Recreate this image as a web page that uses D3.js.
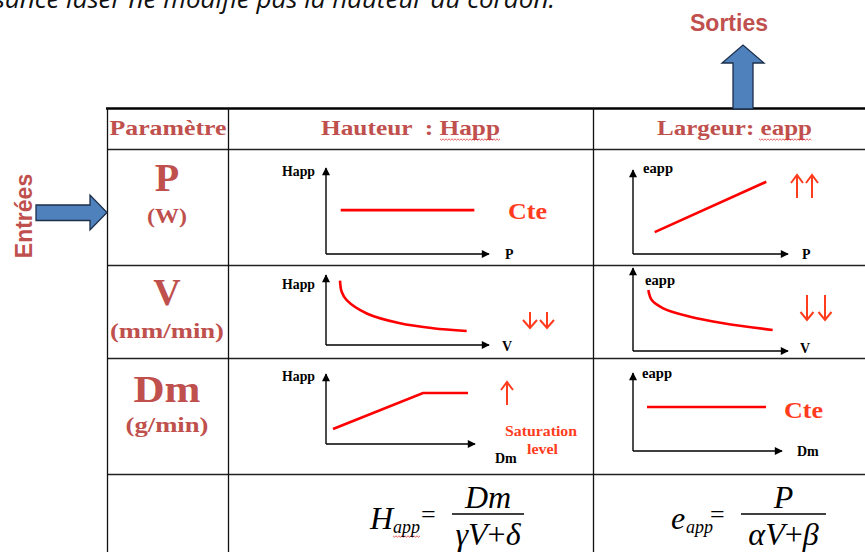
<!DOCTYPE html>
<html>
<head>
<meta charset="utf-8">
<script src="https://d3js.org/d3.v7.min.js"></script>
<style>
  body { margin: 0; background: #fff; }
  svg text { font-family: "Liberation Serif", "Times New Roman", serif; white-space: pre; }
</style>
</head>
<body>
<svg id="chart" width="865" height="552"></svg>
<script>
// ---- data ----
var params = ['P', 'V', 'Dm'];
var units = ['(W)', '(mm/min)', '(g/min)'];
var headers = ['Paramètre', 'Hauteur  : Happ', 'Largeur: eapp'];
var xLabels = ['P', 'P', 'V', 'V', 'Dm', 'Dm'];
var yLabels = ['Happ', 'eapp', 'Happ', 'eapp', 'Happ', 'eapp'];

// trends in axis units (0..10 on each axis)
var pHapp = [[0.9, 5.1], [9.1, 5.1]];
var pEapp = [[1.4, 2.6], [8.6, 8.6]];
var vHapp = [[0.86, 9.2], [0.96, 7.6], [1.27, 6.4], [2.5, 4.5], [4.54, 3.1], [6.56, 2.4], [8.63, 2.0]];
var vEapp = [[0.99, 7.35], [1.21, 6.14], [1.95, 5.14], [3.68, 4.13], [5.83, 3.34], [9.01, 2.53]];
var dmHapp = [[0.47, 2.14], [6.51, 7.29], [9.53, 7.29]];
var dmEapp = [[0.94, 5.64], [8.93, 5.64]];

var labelCol = '#c0504d';
var hotCol = '#ff3c1e';

var svg = d3.select('#chart');
svg.append('rect').attr('width', 865).attr('height', 552).attr('fill', '#fff');

var defs = svg.append('defs');
defs.append('marker')
    .attr('id', 'tip')
    .attr('viewBox', '0 0 10 10')
    .attr('refX', 9).attr('refY', 5)
    .attr('markerUnits', 'userSpaceOnUse')
    .attr('markerWidth', 9).attr('markerHeight', 8)
    .attr('orient', 'auto')
  .append('path')
    .attr('d', 'M0,0 L10,5 L0,10 z')
    .attr('fill', '#000');

// sentence of the page above, cut by the top edge
svg.append('text')
    .attr('x', 555).attr('y', 8)
    .attr('text-anchor', 'end')
    .style('font-family', '"Open Sans", sans-serif')
    .style('font-style', 'italic')
    .style('font-size', '26px')
    .attr('fill', '#111')
    .text('La puissance laser ne modifie pas la hauteur du cordon.');

// ---- table grid ----
var colX = [107, 228, 593];
var rowY = [149, 265, 358, 474];
var grid = svg.append('g').attr('id', 'grid');
grid.append('line').attr('x1', 106).attr('x2', 865).attr('y1', 108.5).attr('y2', 108.5)
    .attr('stroke', '#000').attr('stroke-width', 2.6);
grid.selectAll('.hl').data(rowY).enter().append('line')
    .attr('x1', 107).attr('x2', 865)
    .attr('y1', function(d) { return d + 0.5; }).attr('y2', function(d) { return d + 0.5; })
    .attr('stroke', '#222').attr('stroke-width', 1.3);
grid.selectAll('.vl').data(colX).enter().append('line')
    .attr('x1', function(d) { return d + 0.5; }).attr('x2', function(d) { return d + 0.5; })
    .attr('y1', 108).attr('y2', 552)
    .attr('stroke', '#111').attr('stroke-width', 1.3);

// headers
var headPos = [{x: 168, w: 117}, {x: 410.5, w: 179}, {x: 734.5, w: 155}];
svg.selectAll('.hd').data(headers).enter().append('text')
    .attr('x', function(d, i) { return headPos[i].x; })
    .attr('y', 135)
    .attr('text-anchor', 'middle')
    .attr('textLength', function(d, i) { return headPos[i].w; })
    .attr('lengthAdjust', 'spacingAndGlyphs')
    .style('font-size', '20px').style('font-weight', 'bold')
    .attr('fill', labelCol)
    .text(function(d) { return d; });

// wavy spell-check underlines
function wavy(x0, x1, y) {
  var pts = [];
  for (var x = x0, k = 0; x <= x1; x += 1.5, k++) pts.push([x, y + (k % 2 ? 1.2 : -0.2)]);
  return d3.line()(pts);
}
[[440, 500, 139], [759, 812, 139], [393, 420, 536]].forEach(function(w) {
  svg.append('path').attr('d', wavy(w[0], w[1], w[2]))
     .attr('fill', 'none').attr('stroke', '#e03030').attr('stroke-width', 0.8);
});

// row labels
var bigPos = [{y: 191, fs: 40, w: null}, {y: 305, fs: 38, w: null}, {y: 402, fs: 38, w: 67}];
var unitPos = [{y: 223, w: 40}, {y: 338, w: 114}, {y: 432, w: 83}];
params.forEach(function(p, i) {
  var t = svg.append('text')
      .attr('x', 167).attr('y', bigPos[i].y)
      .attr('text-anchor', 'middle')
      .style('font-size', bigPos[i].fs + 'px').style('font-weight', 'bold')
      .attr('fill', labelCol).text(p);
  if (bigPos[i].w) t.attr('textLength', bigPos[i].w).attr('lengthAdjust', 'spacingAndGlyphs');
  svg.append('text')
      .attr('x', 167).attr('y', unitPos[i].y)
      .attr('text-anchor', 'middle')
      .attr('textLength', unitPos[i].w).attr('lengthAdjust', 'spacingAndGlyphs')
      .style('font-size', '21px').style('font-weight', 'bold')
      .attr('fill', labelCol).text(units[i]);
});

// ---- mini charts ----
var panels = [
  {ox: 326, oy: 254, xe: 489, ye: 168, data: pHapp,  yl: {x: 315, y: 176, a: 'end', w: 33}, xl: {x: 505, y: 259}},
  {ox: 633, oy: 254, xe: 788, ye: 170, data: pEapp,  yl: {x: 643, y: 173, a: 'start', w: 30}, xl: {x: 802, y: 259}},
  {ox: 326, oy: 345, xe: 489, ye: 275, data: vHapp,  yl: {x: 315, y: 289, a: 'end', w: 33}, xl: {x: 502, y: 351}},
  {ox: 633, oy: 351, xe: 788, ye: 268, data: vEapp,  yl: {x: 645, y: 285, a: 'start', w: 30}, xl: {x: 800, y: 353}},
  {ox: 326, oy: 444, xe: 475, ye: 374, data: dmHapp, yl: {x: 315, y: 381, a: 'end', w: 33}, xl: {x: 495, y: 463}},
  {ox: 633, oy: 451, xe: 782, ye: 373, data: dmEapp, yl: {x: 642, y: 378, a: 'start', w: 30}, xl: {x: 797, y: 456}}
];

panels.forEach(function(pn, i) {
  var xs = d3.scaleLinear().domain([0, 10]).range([pn.ox, pn.xe]);
  var ys = d3.scaleLinear().domain([0, 10]).range([pn.oy, pn.ye]);
  var g = svg.append('g').attr('class', 'panel');
  var ln = d3.line().x(function(d) { return xs(d[0]); }).y(function(d) { return ys(d[1]); });

  // axes with arrow tips
  g.append('path').attr('d', ln([[0, 0], [10, 0]]))
      .attr('stroke', '#000').attr('stroke-width', 1.4).attr('fill', 'none')
      .attr('marker-end', 'url(#tip)');
  g.append('path').attr('d', ln([[0, 0], [0, 10]]))
      .attr('stroke', '#000').attr('stroke-width', 1.4).attr('fill', 'none')
      .attr('marker-end', 'url(#tip)');

  // trend
  var curve = pn.data.length > 3 ? d3.curveCatmullRom : d3.curveLinear;
  g.append('path').datum(pn.data)
      .attr('d', ln.curve(curve))
      .attr('fill', 'none').attr('stroke', '#ff0000').attr('stroke-width', 2.6);

  g.append('text')
      .attr('x', pn.yl.x).attr('y', pn.yl.y)
      .attr('text-anchor', pn.yl.a)
      .attr('textLength', pn.yl.w).attr('lengthAdjust', 'spacingAndGlyphs')
      .style('font-size', '14px').style('font-weight', 'bold')
      .attr('fill', '#000').text(yLabels[i]);
  g.append('text')
      .attr('x', pn.xl.x).attr('y', pn.xl.y)
      .style('font-size', '14px').style('font-weight', 'bold')
      .attr('fill', '#000').text(xLabels[i]);
});

// red annotations
[[508, 219], [784, 418]].forEach(function(c) {
  svg.append('text').attr('x', c[0]).attr('y', c[1])
      .attr('textLength', 39).attr('lengthAdjust', 'spacingAndGlyphs')
      .style('font-size', '24px').style('font-weight', 'bold')
      .attr('fill', hotCol).text('Cte');
});
svg.append('text').attr('x', 505).attr('y', 436)
    .attr('textLength', 72).attr('lengthAdjust', 'spacingAndGlyphs')
    .style('font-size', '14px').style('font-weight', 'bold')
    .attr('fill', hotCol).text('Saturation');
svg.append('text').attr('x', 527).attr('y', 454)
    .attr('textLength', 31).attr('lengthAdjust', 'spacingAndGlyphs')
    .style('font-size', '14px').style('font-weight', 'bold')
    .attr('fill', hotCol).text('level');

// trend arrows: [x, tail y, head y, head half-width]
var trendArrows = [
  [797, 198, 175, 6], [812, 198, 175, 6],
  [530, 312, 328, 7], [547, 312, 328, 7],
  [807, 295, 320, 6.5], [825, 295, 320, 6.5],
  [507, 405, 382, 6]
];
trendArrows.forEach(function(a) {
  var dir = a[2] > a[1] ? 1 : -1;
  svg.append('line').attr('x1', a[0]).attr('x2', a[0]).attr('y1', a[1]).attr('y2', a[2])
      .attr('stroke', hotCol).attr('stroke-width', 2);
  svg.append('path')
      .attr('d', 'M' + (a[0] - a[3]) + ',' + (a[2] - dir * 8) + 'L' + a[0] + ',' + a[2] + 'L' + (a[0] + a[3]) + ',' + (a[2] - dir * 8))
      .attr('fill', 'none').attr('stroke', hotCol).attr('stroke-width', 2).attr('stroke-linejoin', 'miter');
});

// ---- formulas ----
function formula(o) {
  var f = svg.append('g').style('font-style', 'italic');
  f.append('text').attr('x', o.x).attr('y', 529).style('font-size', '32px').text(o.main);
  f.append('text').attr('x', o.subX).attr('y', 533).style('font-size', '18px')
      .attr('textLength', 27).attr('lengthAdjust', 'spacingAndGlyphs').text('app');
  f.append('text').attr('x', o.eqX).attr('y', 523).style('font-size', '26px').style('font-style', 'normal').text('=');
  f.append('line').attr('x1', o.bar[0]).attr('x2', o.bar[1]).attr('y1', 514).attr('y2', 514)
      .attr('stroke', '#000').attr('stroke-width', 1.3);
  f.append('text').attr('x', (o.bar[0] + o.bar[1]) / 2).attr('y', 508).attr('text-anchor', 'middle')
      .style('font-size', '32px').text(o.num);
  var den = f.append('text').attr('x', (o.bar[0] + o.bar[1]) / 2).attr('y', 545)
      .attr('text-anchor', 'middle').style('font-size', '32px');
  den.append('tspan').text(o.den[0]);
  den.append('tspan').style('font-style', 'normal').text('+');
  den.append('tspan').text(o.den[1]);
}
formula({x: 370, main: 'H', subX: 393, eqX: 421, bar: [452, 524], num: 'Dm', den: ['γV', 'δ']});
formula({x: 671, main: 'e', subX: 686, eqX: 710, bar: [741, 826], num: 'P', den: ['αV', 'β']});

// ---- Entrées / Sorties block arrows ----
var blockArrow = d3.line();
svg.append('path')
    .attr('d', blockArrow([[36, 205], [90, 205], [90, 195], [107, 212.5], [90, 230], [90, 220.5], [36, 220.5]]) + 'Z')
    .attr('fill', '#4f81bd').attr('stroke', '#1d2f4a').attr('stroke-width', 1.3);
svg.append('path')
    .attr('d', blockArrow([[733, 109], [733, 63], [722, 63], [743, 45], [764, 63], [753, 63], [753, 109]]) + 'Z')
    .attr('fill', '#4f81bd').attr('stroke', '#1d2f4a').attr('stroke-width', 1.3);

svg.append('text')
    .attr('transform', 'translate(32,216) rotate(-90)')
    .attr('text-anchor', 'middle')
    .style('font-family', '"Liberation Sans", Arial, sans-serif')
    .style('font-size', '23px').style('font-weight', 'bold')
    .attr('fill', labelCol).text('Entrées');
svg.append('text')
    .attr('x', 729).attr('y', 31)
    .attr('text-anchor', 'middle')
    .style('font-family', '"Liberation Sans", Arial, sans-serif')
    .style('font-size', '23px').style('font-weight', 'bold')
    .attr('fill', labelCol).text('Sorties');
</script>
</body>
</html>
